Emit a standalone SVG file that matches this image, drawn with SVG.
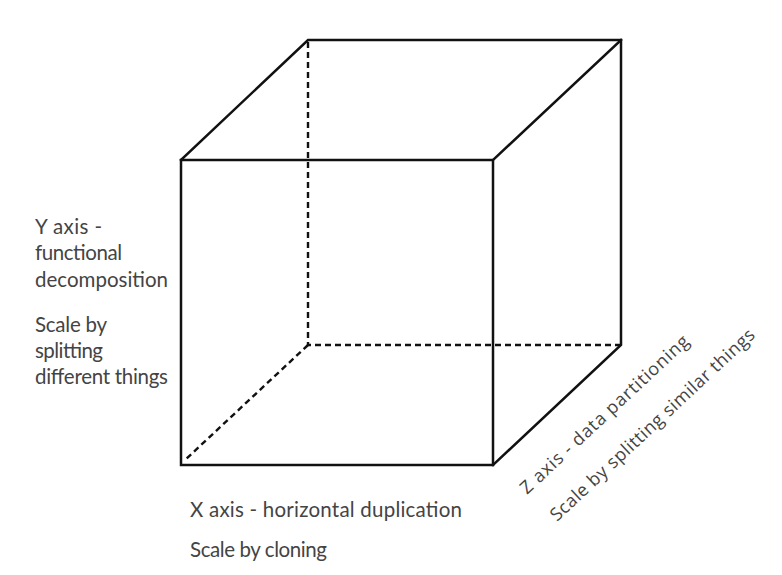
<svg xmlns="http://www.w3.org/2000/svg" width="782" height="575" viewBox="0 0 782 575">
<style>
.solid{fill:none;stroke:#111;stroke-width:2.5;stroke-linejoin:miter;stroke-linecap:square}
.dash{fill:none;stroke:#111;stroke-width:2.4;stroke-dasharray:6 4;stroke-linejoin:round}
.lbl{font-family:Lato,"Open Sans",sans-serif;font-size:20.5px;fill:#444444}
.zl{font-family:"Open Sans","Noto Sans",sans-serif;font-size:18px;fill:#444444}
</style>
<rect width="782" height="575" fill="#ffffff"/>
<g id="connectors">
<path class="dash" d="M308,42 V345 H620"/>
<path class="dash" d="M308,345 L185,460"/>
<path class="solid" d="M181,160 L308,40 H621 V345 L493,465"/>
<path class="solid" d="M621,40 L493,160"/>
</g>
<g id="cube-front">
<rect class="solid" x="181" y="160" width="312" height="305"/>
</g>
<g id="y-label">
<text class="lbl" x="35" y="234" textLength="67">Y axis -</text>
<text class="lbl" x="35" y="260" textLength="87">functional</text>
<text class="lbl" x="35" y="287" textLength="133">decomposition</text>
<text class="lbl" x="35" y="332" textLength="72">Scale by</text>
<text class="lbl" x="35" y="358" textLength="68">splitting</text>
<text class="lbl" x="35" y="384" textLength="133">different things</text>
</g>
<g id="x-label">
<text class="lbl" x="190" y="517" textLength="272">X axis - horizontal duplication</text>
<text class="lbl" x="190" y="557" textLength="137">Scale by cloning</text>
</g>
<g id="z-label">
<text class="zl" transform="translate(527,495) rotate(-43)" textLength="223">Z axis - data partitioning</text>
<text class="zl" transform="translate(557,522) rotate(-43)" textLength="272">Scale by splitting similar things</text>
</g>
</svg>
